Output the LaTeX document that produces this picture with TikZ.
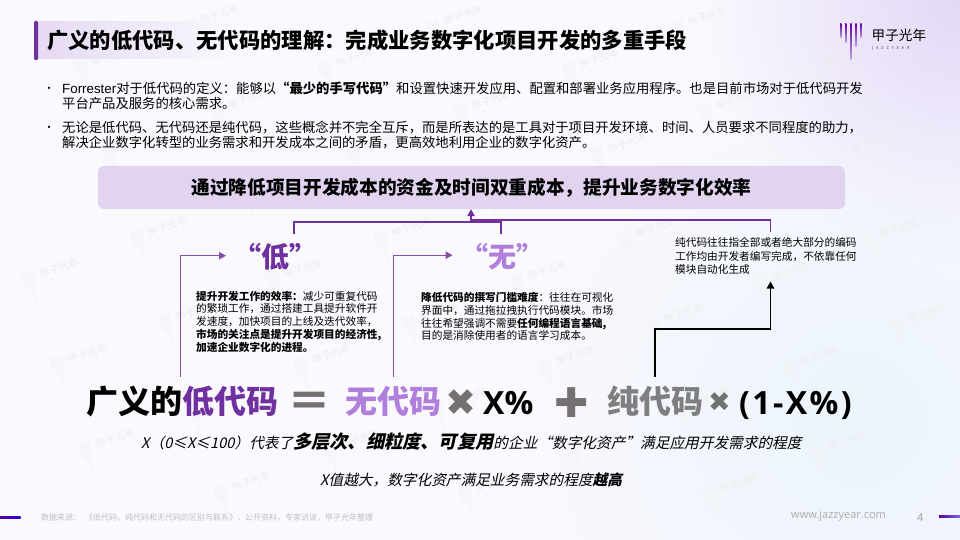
\documentclass[tikz,border=0pt]{standalone}
\usepackage{fontspec}
\setmainfont{Noto Sans CJK SC}
\newfontfamily\slantcjk[FakeSlant=0.22]{Noto Sans CJK SC}
\newfontfamily\latinbold{Open Sans}
\newfontfamily\latinplain{Liberation Sans}
\newfontfamily\symbolfont{DejaVu Sans}
\newfontfamily\logospaced[LetterSpace=70]{Noto Sans}
\usetikzlibrary{positioning,calc}
\usetikzlibrary{arrows.meta,fadings}
\definecolor{JazzPurple}{RGB}{112,48,160}
\definecolor{SoftPurple}{RGB}{176,127,219}
\definecolor{BannerLilac}{RGB}{226,211,241}
\definecolor{SignGray}{RGB}{118,113,113}
\definecolor{CodeGray}{RGB}{127,127,127}
\definecolor{FootGray}{RGB}{190,190,198}
\definecolor{PaperTone}{RGB}{249,249,254}
\definecolor{GlowLilac}{RGB}{228,216,247}
\definecolor{GlowBlue}{RGB}{236,244,252}
\newcommand{\fsz}[2]{\fontsize{#1}{#2}\selectfont}
\tikzfading[name=softglow,inner color=transparent!0,outer color=transparent!100]
\tikzset{
	txt/.style={inner sep=0pt,anchor=west,align=left,text=black},
	basetxt/.style={inner sep=0pt,anchor=base west,text=black},
	flow/.style={draw=JazzPurple,line width=1.3pt},
	softflow/.style={draw=JazzPurple!85,line width=1.3pt},
	blackflow/.style={draw=black,line width=1.2pt},
	tip/.style={-{Triangle[length=7pt,width=7.5pt]}},
	banner/.style={fill=BannerLilac,rounded corners=6pt,inner sep=0pt,
		minimum width=747pt,minimum height=43pt,font=\fsz{18.67}{20}\bfseries},
	wmark/.pic={
		\foreach \x/\b in {0/13,2.6/18,5.2/31,7.8/20,10.4/13}{
			\draw[black!5,line width=.7pt] (\x,0)--(\x,\b);
		}
		\node[inner sep=0pt,anchor=west,text=black!7,font=\fsz{10}{10},transform shape] (-name) at (17,6) {甲子光年};
		\node[inner sep=0pt,anchor=west,text=black!5,font=\fsz{3}{3}\logospaced,transform shape] (-latin) at (17,15) {JAZZYEAR};
	},
}

\begin{document}
\begin{tikzpicture}[x=1pt,y=-1pt]
	\useasboundingbox (0,0) rectangle (960,540);
	% paper
	\fill[PaperTone] (0,0) rectangle (960,540);
	\begin{scope}
		\clip (0,0) rectangle (960,540);
		\fill[GlowLilac,path fading=softglow] (960,0) circle (260);
		\fill[GlowBlue,path fading=softglow] (860,420) circle (330);
		\foreach \i in {-1,...,8}{
			\foreach \j in {-1,...,12}{
				\pgfmathsetmacro{\wx}{318+244*\i-108*\j}
				\pgfmathsetmacro{\wy}{63+\i+42*\j}
				\pgfmathtruncatemacro{\keep}{and(and(\wx>8,\wx<895),and(\wy>12,\wy<505))}
				\ifnum\keep=1
					\pic (wm\i\j) [rotate=18] at (\wx,\wy) {wmark};
				\fi
			}
		}
	\end{scope}
	% title
	\shade[left color=BannerLilac!85,right color=PaperTone] (38,22) rectangle (240,59);
	\fill[JazzPurple,rounded corners=1.2pt] (34,21) rectangle (38,60);
	\node[basetxt,font=\fsz{21.33}{24}\bfseries] (title) at (47,48.5) {广义的低代码、无代码的理解：完成业务数字化项目开发的多重手段};
	% logo
	\foreach \x/\b in {840.7/38,845.7/43,851/60,856/47,861/38}{
		\shade[top color=violet!80!blue,bottom color=blue!55!violet!35] (\x-.6,23.3) rectangle (\x+.6,\b);
	}
	\node[txt,font=\fsz{13.6}{15}] (logoname) at (871.5,35) {甲子光年};
	\node[txt,font=\fsz{4}{5}\logospaced,text=black!70] (logolatin) at (872,48) {JAZZYEAR};
	% bullets
	\node[txt,font=\fsz{11}{15}] (dotone) at (43.5,90) {•};
	\node[txt,font=\fsz{11}{15}] (dottwo) at (43.5,129) {•};
	\node[txt,font=\fsz{13.33}{15.3}] (bulletone) at (62,95.7) {{\latinplain Forrester}对于低代码的定义：能够以\textbf{“最少的手写代码”}和设置快速开发应用、配置和部署业务应用程序。也是目前市场对于低代码开发\\平台产品及服务的核心需求。};
	\node[txt,font=\fsz{13.33}{15.3}] (bullettwo) at (62,135.2) {无论是低代码、无代码还是纯代码，这些概念并不完全互斥，而是所表达的是工具对于项目开发环境、时间、人员要求不同程度的助力，\\解决企业数字化转型的业务需求和开发成本之间的矛盾，更高效地利用企业的数字化资产。};
	% banner
	\node[banner] (goal) at (471.5,187.5) {通过降低项目开发成本的资金及时间双重成本，提升业务数字化效率};
	\coordinate (lowtop) at (294,234);
	\coordinate (freetop) at (501,233.5);
	\coordinate (puretop) at (770.5,232);
	\coordinate (joinlow) at (471,222);
	\coordinate (joinpure) at (471,220);
	\draw[flow] (lowtop) |- (joinlow) -| (freetop);
	\draw[flow] (joinpure) -| (puretop);
	\draw[flow,tip] (joinlow) -- (joinlow |- goal.south);
	% three columns
	\node[anchor=center,inner sep=0pt,text=JazzPurple,font=\fsz{28}{30}\bfseries] (lowmark) at (275,257) {“低”};
	\node[anchor=center,inner sep=0pt,text=SoftPurple,font=\fsz{28}{30}\bfseries] (freemark) at (502,257) {“无”};
	\node[txt,font=\fsz{10.67}{12.8}] (lowtext) at (196,321.6) {\textbf{提升开发工作的效率：}减少可重复代码\\的繁琐工作，通过搭建工具提升软件开\\发速度，加快项目的上线及迭代效率，\\\textbf{市场的关注点是提升开发项目的经济性,}\\\textbf{加速企业数字化的进程。}};
	\node[txt,font=\fsz{10.67}{12.9}] (freetext) at (421,316.5) {\textbf{降低代码的撰写门槛难度}：往往在可视化\\界面中，通过拖拉拽执行代码模块。市场\\往往希望强调不需要\textbf{任何编程语言基础,}\\目的是消除使用者的语言学习成本。};
	\node[txt,font=\fsz{10.67}{13.3}] (puretext) at (675,256) {纯代码往往指全部或者绝大部分的编码\\工作均由开发者编写完成，不依靠任何\\模块自动化生成};
	\coordinate (lowfoot) at (180.7,377);
	\coordinate (lowend) at (226,255.7);
	\coordinate (freefoot) at (393.7,377);
	\coordinate (freeend) at (452.5,255.2);
	\coordinate (purefoot) at (655,377);
	\coordinate (pureend) at (770.5,281.5);
	\draw[softflow,tip] (lowfoot) |- (lowend);
	\draw[softflow,tip] (freefoot) |- (freeend);
	\draw[blackflow,tip] (purefoot) |- (655,329) -| (pureend);
	% formula
	\node[basetxt,font=\fsz{32}{34}\bfseries] (broad) at (86,413.5) {广义的\textcolor{JazzPurple}{低代码}};
	\node[basetxt,text=SignGray,font=\fsz{44}{46}\bfseries] (equal) at (287,417.5) {＝};
	\node[basetxt,text=SoftPurple,font=\fsz{32}{34}\bfseries] (freecode) at (345,413.5) {无代码};
	\node[basetxt,text=SignGray,font=\fsz{37}{39}\symbolfont] (timesone) at (445,415) {✖};
	\node[basetxt,font=\fsz{32}{34}\latinbold\bfseries] (xpct) at (483,414) {X\%};
	\node[basetxt,text=SignGray,font=\fsz{41}{43}\symbolfont] (plus) at (554,417) {✚};
	\node[basetxt,text=CodeGray,font=\fsz{32}{34}\bfseries] (purecode) at (607,413.5) {纯代码};
	\node[basetxt,text=SignGray,font=\fsz{27}{29}\symbolfont] (timestwo) at (708,411) {✖};
	\node[basetxt,font=\fsz{32}{34}\latinbold\bfseries] (rest) at (739,414) {(\hspace{2.4pt}1\hspace{2.4pt}-\hspace{2.4pt}X\hspace{2.4pt}\%\hspace{2.4pt})};
	% remarks
	\node[basetxt,font=\fsz{14.67}{16}\slantcjk] (remarkone) at (141,448.5) {X（0≤X≤100）代表了{\fsz{18.2}{20}\bfseries 多层次、细粒度、可复用}的企业“数字化资产”满足应用开发需求的程度};
	\node[basetxt,font=\fsz{14.67}{16}\slantcjk] (remarktwo) at (320,485.5) {X值越大，数字化资产满足业务需求的程度\textbf{越高}};
	% footer
	\shade[left color=violet!70!blue,right color=blue!70!violet] (0,516) rectangle (20.5,518);
	\shade[left color=violet!70!blue,right color=blue!70!violet!60] (939,515) rectangle (960,517);
	\node[basetxt,text=FootGray,font=\fsz{8}{9}] (source) at (41,520) {数据来源：\hspace{4pt}《低代码、纯代码和无代码的区别与联系》，公开资料，专家访谈，甲子光年整理};
	\node[basetxt,text=black!33,font=\fsz{11}{12}\latinbold] (site) at (791,518) {www.jazzyear.com};
	\node[basetxt,text=black!40,font=\fsz{10.67}{12}\latinbold] (page) at (917,521) {4};
\end{tikzpicture}
\end{document}
